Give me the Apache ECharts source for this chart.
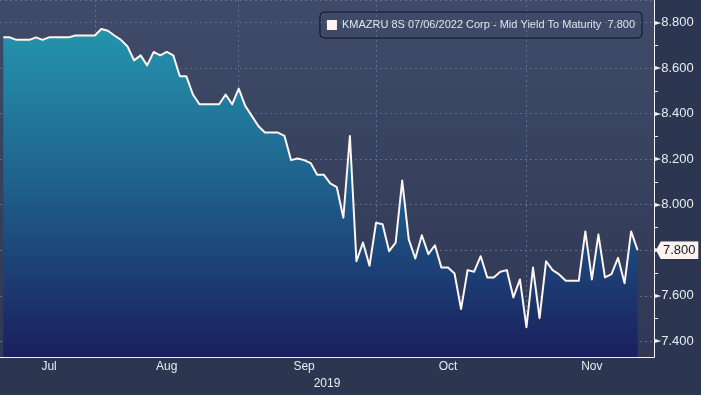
<!DOCTYPE html>
<html><head><meta charset="utf-8">
<script src="https://cdn.jsdelivr.net/npm/echarts@6/dist/echarts.min.js"></script>
<style>html,body{margin:0;padding:0;background:#2c3650;}#c{width:701px;height:395px;}</style>
</head><body><div id="c"></div>
<script>
// Weekday categories (business days)
const categories = [
 '2019-07-12','2019-07-15','2019-07-16','2019-07-17','2019-07-18','2019-07-19',
 '2019-07-22','2019-07-23','2019-07-24','2019-07-25','2019-07-26',
 '2019-07-29','2019-07-30','2019-07-31',
 '2019-08-01','2019-08-02','2019-08-05','2019-08-06','2019-08-07','2019-08-08','2019-08-09',
 '2019-08-12','2019-08-13','2019-08-14','2019-08-15','2019-08-16',
 '2019-08-19','2019-08-20','2019-08-21','2019-08-22','2019-08-23',
 '2019-08-26','2019-08-27','2019-08-28','2019-08-29','2019-08-30',
 '2019-09-02','2019-09-03','2019-09-04','2019-09-05','2019-09-06',
 '2019-09-09','2019-09-10','2019-09-11','2019-09-12','2019-09-13',
 '2019-09-16','2019-09-17','2019-09-18','2019-09-19','2019-09-20',
 '2019-09-23','2019-09-24','2019-09-25','2019-09-26','2019-09-27','2019-09-30',
 '2019-10-01','2019-10-02','2019-10-03','2019-10-04',
 '2019-10-07','2019-10-08','2019-10-09','2019-10-10','2019-10-11',
 '2019-10-14','2019-10-15','2019-10-16','2019-10-17','2019-10-18',
 '2019-10-21','2019-10-22','2019-10-23','2019-10-24','2019-10-25',
 '2019-10-28','2019-10-29','2019-10-30','2019-10-31',
 '2019-11-01','2019-11-04','2019-11-05','2019-11-06','2019-11-07','2019-11-08',
 '2019-11-11','2019-11-12','2019-11-13','2019-11-14','2019-11-15',
 '2019-11-18','2019-11-19','2019-11-20','2019-11-21','2019-11-22',
 '2019-11-25','2019-11-26','2019-11-27','2019-11-28'
];
const seriesName = 'KMAZRU 8S 07/06/2022 Corp - Mid Yield To Maturity';
const yieldValues = [
 8.735,8.735,8.724,8.724,8.724,8.735,8.724,8.735,8.735,8.735,
 8.735,8.743,8.743,8.743,8.743,8.772,8.764,8.743,8.724,8.695,
 8.634,8.656,8.612,8.671,8.656,8.671,8.656,8.564,8.564,8.484,
 8.441,8.441,8.441,8.441,8.484,8.441,8.510,8.434,8.390,8.346,
 8.317,8.317,8.317,8.302,8.196,8.203,8.196,8.183,8.132,8.132,
 8.094,8.077,7.943,8.302,7.752,7.834,7.732,7.921,7.914,7.796,
 7.834,8.106,7.848,7.764,7.866,7.783,7.822,7.724,7.724,7.698,
 7.542,7.713,7.706,7.774,7.681,7.681,7.706,7.713,7.593,7.672,
 7.462,7.724,7.502,7.752,7.713,7.694,7.666,7.666,7.666,7.883,
 7.672,7.869,7.681,7.695,7.767,7.655,7.883,7.800
];
const monthLabels = {'07':'Jul','08':'Aug','09':'Sep','10':'Oct','11':'Nov'};
const yearLabel = '2019';
const yMin = 7.331, yMax = 8.899;

const groups = {};
const monthStart = new Set();
const monthMid = new Set();
categories.forEach((d, i) => {
  const m = d.slice(5, 7);
  (groups[m] = groups[m] || []).push(i);
  if (i > 0 && categories[i - 1].slice(5, 7) !== m) monthStart.add(i);
});
Object.keys(groups).forEach(m => {
  const g = groups[m];
  monthMid.add(Math.round((g[0] + g[g.length - 1]) / 2));
});

const last = yieldValues[yieldValues.length - 1];
const svg = "<svg xmlns='http://www.w3.org/2000/svg' width='44' height='18' viewBox='0 0 44 18' preserveAspectRatio='none'><path d='M0 9 L5 0 L44 0 L44 18 L5 18 Z' fill='#fdf3ec'/></svg>";
const bgURL = 'data:image/svg+xml;charset=utf-8,' + encodeURIComponent(svg);

const chart = echarts.init(document.getElementById('c'), null, {renderer: 'canvas'});
const gridLine = {color: '#5b6f8d', type: [2, 3], width: 1};
chart.setOption({
  animation: false,
  backgroundColor: '#2c3650',
  textStyle: {fontFamily: 'Liberation Sans, Arial, sans-serif'},
  grid: {
    left: -2.5, right: 47, top: 0, bottom: 36, show: true, borderWidth: 0,
    backgroundColor: new echarts.graphic.LinearGradient(0, 0, 0, 1, [
      {offset: 0, color: '#3f4b68'}, {offset: 1, color: '#2f3854'}
    ])
  },
  legend: {
    right: 59, top: 12, icon: 'rect', itemWidth: 10, itemHeight: 10,
    padding: [7, 7], borderColor: '#0f1429', borderWidth: 1, borderRadius: 4,
    textStyle: {color: '#dfe3ea', fontSize: 11, lineHeight: 12},
    formatter: n => n + '  ' + last.toFixed(3)
  },
  xAxis: {
    type: 'category', data: categories, boundaryGap: true,
    axisLine: {lineStyle: {color: '#f2f2f2', width: 1}},
    axisTick: {alignWithLabel: true, length: 5, interval: i => monthStart.has(i), lineStyle: {color: '#f2f2f2'}},
    axisLabel: {interval: i => monthMid.has(i), formatter: v => monthLabels[v.slice(5, 7)], color: '#e8ecf2', fontSize: 12, margin: 4},
    splitLine: {show: true, alignWithLabel: true, interval: i => monthStart.has(i), lineStyle: gridLine},
    name: yearLabel, nameLocation: 'middle', nameGap: 18,
    nameTextStyle: {color: '#e8ecf2', fontSize: 12}
  },
  yAxis: {
    type: 'value', position: 'right', min: yMin, max: yMax, splitNumber: 8,
    axisLine: {show: true, lineStyle: {color: '#f2f2f2'}},
    axisTick: {show: false},
    minorTick: {show: true, splitNumber: 2, length: 4, lineStyle: {color: '#f2f2f2'}},
    axisLabel: {
      showMinLabel: false, showMaxLabel: false, margin: 1, color: '#e8ecf2', fontSize: 13,
      formatter: v => '{t|►}' + v.toFixed(3),
      rich: {t: {fontFamily: 'DejaVu Sans', fontSize: 8, color: '#f2f2f2', verticalAlign: 'middle'}}
    },
    splitLine: {show: true, lineStyle: gridLine}
  },
  series: [{
    name: seriesName, type: 'line', data: yieldValues, symbol: 'none',
    itemStyle: {color: '#fff5f0'},
    lineStyle: {color: '#fff5f0', width: 2, join: 'round'},
    areaStyle: {
      opacity: 1,
      color: new echarts.graphic.LinearGradient(0, 0, 0, 1, [
        {offset: 0, color: '#2494ac'}, {offset: 0.45, color: '#1f638f'}, {offset: 1, color: '#1a1f5e'}
      ])
    },
    markLine: {
      silent: true, symbol: 'none', animation: false,
      lineStyle: {color: 'rgba(0,0,0,0)', width: 0},
      label: {
        position: 'end', distance: 2, formatter: () => last.toFixed(3),
        color: '#141a2a', fontSize: 13, padding: [3, 3, 2, 7],
        backgroundColor: {image: bgURL}
      },
      data: [{yAxis: last}]
    }
  }]
});
</script></body></html>
